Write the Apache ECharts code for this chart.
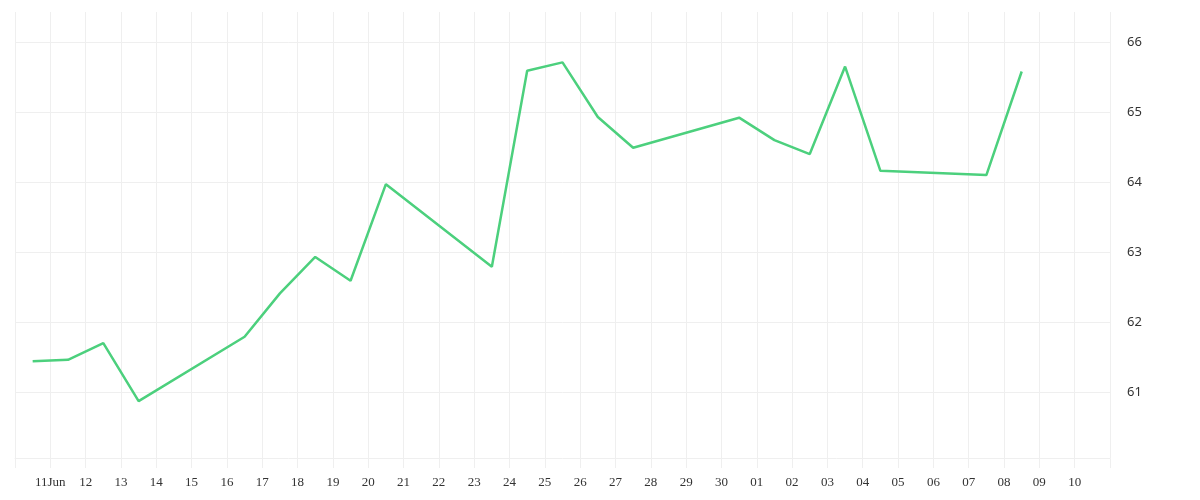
<!DOCTYPE html>
<html>
<head>
<meta charset="utf-8">
<script src="https://cdn.jsdelivr.net/npm/echarts@6/dist/echarts.min.js"></script>
<style>
    html, body { margin: 0; padding: 0; background: #fff; }
    #container { width: 1200px; height: 500px; }
</style>
</head>
<body>
<div id="container"></div>
<script>
// trading days and closing values
var dates = ['2020-06-10', '2020-06-11', '2020-06-12', '2020-06-13', '2020-06-16', '2020-06-17',
    '2020-06-18', '2020-06-19', '2020-06-20', '2020-06-23', '2020-06-24', '2020-06-25',
    '2020-06-26', '2020-06-27', '2020-06-30', '2020-07-01', '2020-07-02', '2020-07-03',
    '2020-07-04', '2020-07-07', '2020-07-08'];
var values = [61.44, 61.46, 61.70, 60.87, 61.79, 62.41,
    62.93, 62.59, 63.97, 62.79, 65.59, 65.71,
    64.93, 64.49, 64.92, 64.60, 64.40, 65.65,
    64.16, 64.10, 65.58];
// one tick per day, starting 2020-06-10
var tickLabels = ['', '11Jun', '12', '13', '14', '15', '16', '17', '18', '19', '20',
    '21', '22', '23', '24', '25', '26', '27', '28', '29', '30',
    '01', '02', '03', '04', '05', '06', '07', '08', '09', '10', ''];

var startDay = Date.UTC(2020, 5, 10);
var seriesData = [];
for (var i = 0; i < dates.length; i++) {
    var p = dates[i].split('-');
    var day = (Date.UTC(+p[0], +p[1] - 1, +p[2]) - startDay) / 86400000;
    seriesData.push([day + 0.5, values[i]]);
}

var dom = document.getElementById("container");
var myChart = echarts.init(dom);

var gridColor = '#efefef';

var option = {
    animation: false,
    grid: {
        left: 15,
        right: 90,
        top: 12,
        bottom: 41.5
    },
    xAxis: {
        type: 'value',
        min: 0,
        max: tickLabels.length - 1,
        interval: 1,
        axisLine: { show: true, lineStyle: { color: gridColor } },
        axisTick: { show: true, length: 9.5, lineStyle: { color: gridColor } },
        splitLine: { show: true, lineStyle: { color: gridColor, width: 1 } },
        axisLabel: {
            margin: 18,
            color: '#333',
            fontFamily: 'Liberation Serif',
            fontSize: 13,
            formatter: function (v) {
                return tickLabels[Math.round(v)] || '';
            }
        }
    },
    yAxis: {
        type: 'value',
        position: 'right',
        min: 60.05,
        max: 66.43,
        minInterval: 1,
        maxInterval: 1,
        axisLine: { show: false },
        axisTick: { show: false },
        splitLine: {
            show: true,
            showMinLine: false,
            showMaxLine: false,
            lineStyle: { color: gridColor, width: 1 }
        },
        axisLabel: {
            margin: 17,
            color: '#333',
            fontFamily: 'Noto Sans',
            fontSize: 13,
            padding: [4, 0, 0, 0],
            showMinLabel: false,
            showMaxLabel: false,
            formatter: function (v) {
                return Math.abs(v - Math.round(v)) < 1e-6 ? String(Math.round(v)) : '';
            }
        }
    },
    series: [{
        type: 'line',
        data: seriesData,
        showSymbol: false,
        symbol: 'none',
        lineStyle: { color: '#4cd07d', width: 2.5 },
        itemStyle: { color: '#4cd07d' }
    }]
};

myChart.setOption(option, true);
</script>
</body>
</html>
